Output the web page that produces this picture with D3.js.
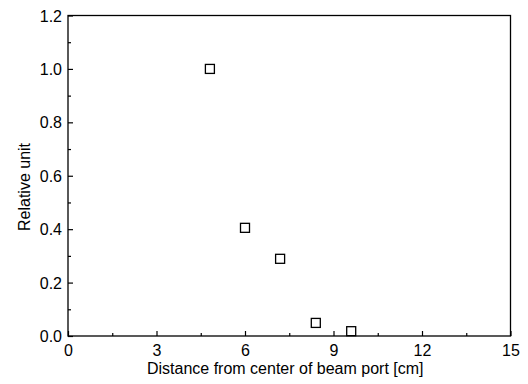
<!DOCTYPE html>
<html>
<head>
<meta charset="utf-8">
<script src="https://cdn.jsdelivr.net/npm/d3@7"></script>
<style>
  body { margin: 0; background: #fff; }
  svg { display: block; }
  text { font-family: "Liberation Sans", Arial, sans-serif; fill: #000; }
</style>
</head>
<body>
<svg id="chart" width="528" height="384"></svg>
<script>
// the data
var distance = [4.81, 6.0, 7.19, 8.40, 9.60];
var relative = [1.0, 0.405, 0.289, 0.049, 0.018];
var xTicks = [0, 3, 6, 9, 12, 15];
var yTicks = [0.0, 0.2, 0.4, 0.6, 0.8, 1.0, 1.2];

window.addEventListener('load', drawChart);
function drawChart(){

    var svg = d3.select('#chart');
    // plot frame edges (note: "top" is reserved on window, so use pTop)
    var pLeft = 68, pRight = 510.5, pTop = 15.5, pBottom = 336;
    var fs = 16;

    var scX = d3.scaleLinear().domain([0, 15]).range([pLeft, pRight]);
    var scY = d3.scaleLinear().domain([0, 1.2]).range([pBottom, pTop]);

    // frame
    svg.append('rect')
        .attr('x', pLeft).attr('y', pTop)
        .attr('width', pRight - pLeft).attr('height', pBottom - pTop)
        .attr('fill', 'none').attr('stroke', '#000').attr('stroke-width', 1.3);

    // x axis: ticks point inward
    var xAx = svg.append('g').attr('transform', 'translate(0,' + pBottom + ')')
        .call(d3.axisBottom(scX).tickValues(xTicks).tickSizeInner(-5).tickSizeOuter(0)
            .tickFormat(d3.format('d')).tickPadding(9));
    var xMinor = svg.append('g').attr('transform', 'translate(0,' + pBottom + ')')
        .call(d3.axisBottom(scX).tickValues(d3.range(1.5, 15, 3)).tickSize(-3).tickFormat(''));

    // y axis
    var yAx = svg.append('g').attr('transform', 'translate(' + pLeft + ',0)')
        .call(d3.axisLeft(scY).tickValues(yTicks).tickSizeInner(-5).tickSizeOuter(0)
            .tickFormat(d3.format('.1f')).tickPadding(6));
    var yMinor = svg.append('g').attr('transform', 'translate(' + pLeft + ',0)')
        .call(d3.axisLeft(scY).tickValues(d3.range(0.1, 1.2, 0.2)).tickSize(-3).tickFormat(''));

    [xAx, xMinor, yAx, yMinor].forEach(function(g){
        g.select('.domain').remove();
        g.selectAll('line').attr('stroke', '#000').attr('stroke-width', 1.2);
        g.selectAll('text').attr('font-size', fs).attr('font-family', '"Liberation Sans", Arial, sans-serif');
    });
    xAx.selectAll('text').attr('dy', '0.71em');
    yAx.selectAll('text').attr('dy', '0.35em');

    // axis titles
    svg.append('text')
        .attr('x', (pLeft + pRight) / 2 - 4).attr('y', 374)
        .attr('text-anchor', 'middle').attr('font-size', fs)
        .text('Distance from center of beam port [cm]');

    svg.append('text')
        .attr('transform', 'translate(30,187) rotate(-90)')
        .attr('text-anchor', 'middle').attr('font-size', fs)
        .text('Relative unit');

    // points: open squares
    svg.selectAll('rect.pt')
        .data(distance).enter().append('rect')
        .attr('class', 'pt')
        .attr('x', d => scX(d) - 4.5)
        .attr('y', (d, i) => scY(relative[i]) - 4.5)
        .attr('width', 9).attr('height', 9)
        .attr('fill', 'none').attr('stroke', '#000').attr('stroke-width', 1.3);
}
</script>
</body>
</html>
